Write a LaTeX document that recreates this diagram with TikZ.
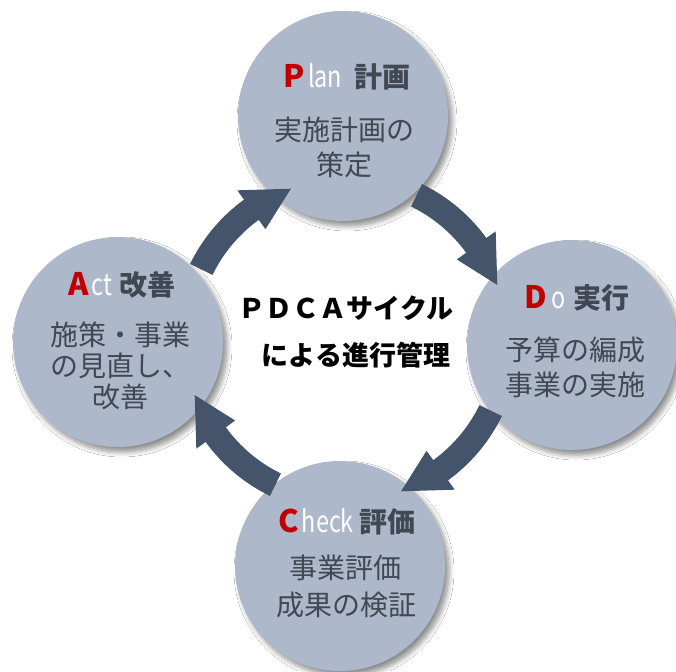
\documentclass[tikz,border=0pt]{standalone}
\usepackage{fontspec}
\usepackage{graphicx}
\setmainfont{Noto Sans CJK JP}
\usetikzlibrary{shadows.blur}
\definecolor{circfill}{HTML}{ADB9CA}
\definecolor{arrowc}{HTML}{44546A}
\definecolor{bodyc}{HTML}{414753}
\definecolor{pred}{HTML}{C00000}
\tikzset{
  phase/.style={circle, fill=circfill, minimum size=210pt, inner sep=0pt,
    blur shadow={shadow xshift=4pt, shadow yshift=-5pt, shadow blur radius=5pt,
                 shadow opacity=45, shadow blur steps=8}},
  bodytxt/.style={text=bodyc, font=\fontsize{28}{30}\selectfont, inner sep=0pt},
  headtxt/.style={text=bodyc, font=\fontsize{28}{30}\selectfont\bfseries, inner sep=0pt},
  midtxt/.style={text=black, font=\fontsize{27}{30}\selectfont\bfseries, inner sep=0pt},
  cycarrow/.style={fill=arrowc}
}
\newcommand{\hdR}[1]{{\color{pred}\fontsize{31}{31}\selectfont\bfseries #1}}
\newcommand{\hdW}[1]{{\color{white}\mdseries\scalebox{0.78}[1]{\fontsize{30}{30}\selectfont #1}}}
\begin{document}
\begin{tikzpicture}[x=1pt,y=-1pt]
\useasboundingbox[fill=white] (0,0) rectangle (676,671);
% circles
\node[phase] (plan)  at (343,116) {};
\node[phase] (do)    at (572,345) {};
\node[phase] (check) at (340,566) {};
\node[phase] (act)   at (118,342) {};
% cycle arrows
\coordinate (ring) at (346,340);
\begin{scope}[shift={(ring)}]
\foreach \a in {90,0,-90,180}{
  \fill[cycarrow] (\a-26:148.5pt) arc[start angle=\a-26, end angle=\a-54, radius=148.5pt]
    -- (\a-54:137pt) -- (\a-70:161pt) -- (\a-54:185pt) -- (\a-54:173.5pt)
    arc[start angle=\a-54, end angle=\a-26, radius=173.5pt] -- cycle;
}
\end{scope}
% Plan
\node[headtxt] (planh) at (347,77) {\hdR{P}\hspace{3pt}\hdW{lan}\hspace{12pt}計画};
\node[bodytxt] (planb1) at (344,130) {実施計画の};
\node[bodytxt] (planb2) at (344,165) {策定};
% Do
\node[headtxt] (doh) at (577,298) {\hdR{D}\hspace{4pt}\hdW{o}\hspace{8pt}実行};
\node[bodytxt] (dob1) at (575,350) {予算の編成};
\node[bodytxt] (dob2) at (575,385) {事業の実施};
% Check
\node[headtxt] (checkh) at (347,522) {\hdR{C}\hspace{3pt}\hdW{heck}\hspace{6pt}評価};
\node[bodytxt] (checkb1) at (345,568) {事業評価};
\node[bodytxt] (checkb2) at (346,605) {成果の検証};
% Act
\node[headtxt] (acth) at (122,285) {\hdR{A}\hspace{3pt}\hdW{ct}\hspace{8pt}改善};
\node[bodytxt] (actb1) at (120,335) {施策・事業};
\node[bodytxt] (actb2) at (120,366) {の見直し、};
\node[bodytxt] (actb3) at (120,397) {改善};
% centre
\node[midtxt] (mid1) at (346,308) {ＰＤＣＡサイクル};
\node[midtxt] (mid2) at (356,355) {による進行管理};
\end{tikzpicture}
\end{document}
